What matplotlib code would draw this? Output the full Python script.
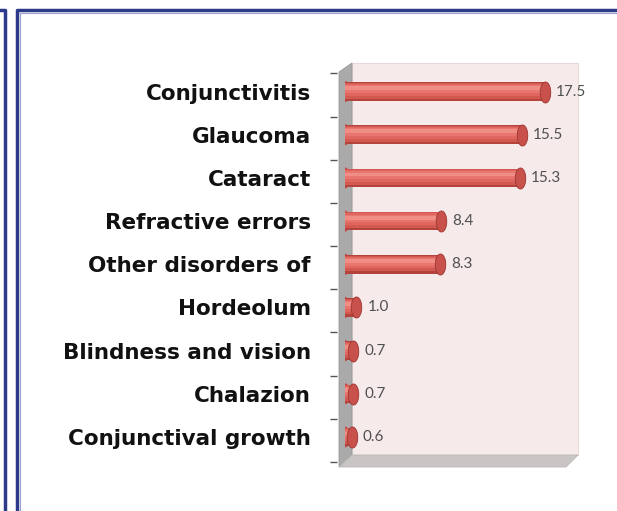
import numpy as np
import matplotlib.pyplot as plt
from matplotlib.patches import Polygon
from matplotlib.lines import Line2D
from matplotlib.path import Path

# datos
categories = ["Conjunctivitis", "Glaucoma", "Cataract", "Refractive errors",
              "Other disorders of", "Hordeolum", "Blindness and vision",
              "Chalazion", "Conjunctival growth"]
values = [17.5, 15.5, 15.3, 8.4, 8.3, 1.0, 0.7, 0.7, 0.6]
value_labels = ["17.5", "15.5", "15.3", "8.4", "8.3", "1.0", "0.7", "0.7", "0.6"]

W, H = 617, 511
fig = plt.figure(figsize=(W / 100, H / 100), dpi=100)

def px(x, y):  # pixel (desde arriba) -> fraccion de figura
    return (x / W, 1 - y / H)

ax_l, ax_r, ax_t, ax_b = 345, 572, 70, 462
ax = fig.add_axes([ax_l / W, 1 - ax_b / H, (ax_r - ax_l) / W, (ax_b - ax_t) / H])
ax.patch.set_alpha(0)

# paredes "3D"
back = Polygon([px(352, 63), px(578, 63), px(578, 455), px(352, 455)], closed=True,
               facecolor="#f6ebea", edgecolor="#e6dada", lw=0.8,
               transform=fig.transFigure, clip_on=False, zorder=0)
side = Polygon([px(339, 72), px(352, 63), px(352, 455), px(339, 467)], closed=True,
               facecolor="#aaaaaa", edgecolor="#999999", lw=0.6,
               transform=fig.transFigure, clip_on=False, zorder=0)
floor = Polygon([px(339, 467), px(352, 455), px(578, 455), px(566, 467)], closed=True,
                facecolor="#c9c5c5", edgecolor="#bbb6b6", lw=0.6,
                transform=fig.transFigure, clip_on=False, zorder=0)
for p in (back, side, floor):
    ax.add_patch(p)

y = np.arange(len(categories))
h = 0.43
# cilindros: capas de oscuro a claro
t = np.linspace(0, 2 * np.pi, 40)
ell = Path(np.column_stack([0.5 * np.cos(t), np.sin(t)]))
ax.scatter([0] * len(values), y, marker=ell, s=230, color="#c24b46",
           edgecolors="none", zorder=1.9)
layers = [(1.0, 0.0, "#b4433e"), (0.84, -0.02, "#d2594f"), (0.64, -0.04, "#df675f"),
          (0.42, -0.06, "#e8766e"), (0.2, -0.08, "#f08d85")]
for k, (f, dy, c) in enumerate(layers):
    ax.barh(y + dy, values, height=h * f, color=c, zorder=2 + k * 0.1)
ax.scatter(values, y, marker=ell, s=230, color="#c8524b", edgecolors="#9e3430",
           linewidths=0.6, zorder=3)

for yi, v, lab in zip(y, values, value_labels):
    ax.annotate(lab, (v, yi), xytext=(8, 0), textcoords="offset points",
                va="center", ha="left", fontsize=11, color="#505050",
                family="Lato")

ax.spines["left"].set_position(("outward", 6))
for s in ax.spines.values():
    s.set_visible(False)
ax.set_xlim(0, (ax_r - ax_l) / 11.42)
ax.set_ylim(len(categories) - 0.5, -0.5)
ax.set_xticks([])
ax.set_yticks(y)
ax.set_yticks(np.arange(len(categories) + 1) - 0.42, minor=True)
ax.tick_params(axis="y", which="major", length=0, pad=18.5)
ax.tick_params(axis="y", which="minor", length=5, width=1, color="#555555")
ax.set_yticklabels(categories, fontsize=15.5, fontweight="bold", color="#111111")

# marcos azules
blue = "#2d3a8a"
for xs, ys in [([0, 5, 5], [10, 10, H]), ([W, 17, 17], [10, 10, H])]:
    fr = [px(a, b) for a, b in zip(xs, ys)]
    fig.add_artist(Line2D([f[0] for f in fr], [f[1] for f in fr], color=blue, lw=2.5,
                          transform=fig.transFigure))
fig.add_artist(Line2D([px(20, 0)[0], px(20, 0)[0], px(W, 0)[0]],
                      [px(0, H)[1], px(0, 13)[1], px(0, 13)[1]], color="#9aa2d0", lw=0.8,
                      transform=fig.transFigure))

plt.savefig("out.png", dpi=100)
